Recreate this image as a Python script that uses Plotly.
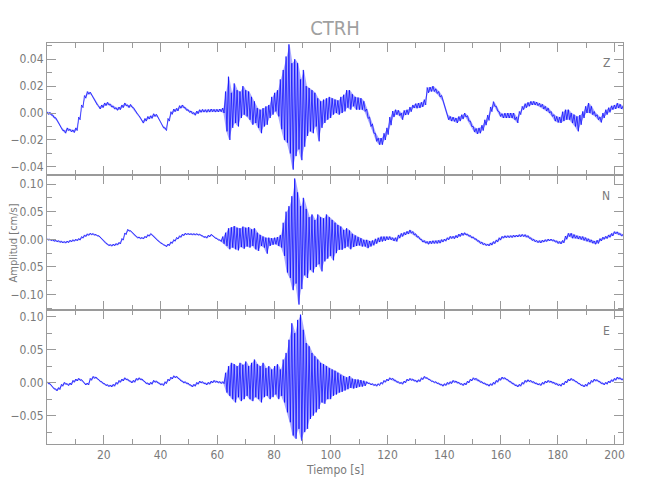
import plotly.graph_objects as go

# ---------------- data (values in units of 0.001 cm/s) ----------------
dt = 1.015          # sampling step of the read-off values [s]
title_text = "CTRH"
components = ["Z", "N", "E"]
x_ticks = [20, 40, 60, 80, 100, 120, 140, 160, 180, 200]

z_hi = [1,0.5,-1.5,-3.5,-7,-11,-13,-11,-12,-12.5,-11,-3,6,13,16,15.5,12,8,5,6,7.5,8,6.5,5,4,4.5,6,7.5,6,6.4,
        4,1,-2,-5.5,-4,-2.5,-2,-0.5,-1,-4.5,-9,-11,-4,1,3,3.5,5.5,6,4,2.5,1.5,0.3,1.5,2.5,2.7,2.5,2.7,3,2.7,2.8,3,
        3.7,16,27,15,22,17,16,20,17,16,12,8.7,3.7,2.5,3.7,5,6,12,15,17,25,32,42,51,37,40,37,25,32,20,18.6,17,15,11,8.7,10,11,12,11,10,
        9.4,12,13.6,17,17,14,12,11.5,11,8.7, 3,-3,-8,-15,-18.6,-18.6,-15,-11,-3,1.5, 2.5,2,0,2,2.5,4.5,6,7,7.4,8,
        10,19,19.3,20,18,16,13,6,-1,-2.5, -3,-3.7,-2.5,-1.2,0,-2,-6,-10,-11.5,-11, -9,-5,-1.5,4.5,8.5,5,1,-0.5,0,0,
        0,0,-3,1.2,5,7,8,8.7,8.7,8.2, 7.2,6.5,5,3.7,1.2,-1.2,-2.5,-3,1,2.5, 2.5,0,-1.2,-2.5,-1.5,1.2,5,7.4,5,1.2,
        -1.2,-3,0,2.5,4,5.4,6,7.4,6.5,5]
z_lo = [-1,-1.5,-3.5,-5.5,-9,-13,-15,-13,-14,-14.5,-13,-5,4,11,14,13.5,10,6,3,4,5.5,6,4.5,3,2,2.5,4,5.5,4,4.4,
        2,-1,-4,-7.5,-6,-4.5,-4,-2.5,-3,-6.5,-11,-13,-6,-1,1,1.5,3.5,4,2,0.5,-0.5,-1.7,-0.5,0.5,0.7,0.5,0.7,1,0.7,0.8,1,
        0,-13.6,-20,-11,-7.4,-10,-3.7,-1.2,-2.5,-5,-8.7,-7.4,-11,-15,-10,-8.7,-3.7,-1.2,1.2,-2.5,-12,-20,-22,-30,-42,-32,-27,-35,-25,-17,-13.6,-15,-10,-21,-11,-7.4,-5,-3.7,-1.2,0,
        -1.2,0,1.2,4,2.5,5,2.5,2.5,2.5,1.2, -4,-10,-15,-21,-23.5,-23.5,-20,-16,-9,-3, -1.2,-2,-5,-1.5,-1.2,1,3.7,3.5,3.7,4.5,
        6,15,16,16,14.5,12,9,2.5,-5,-6, -6.2,-7.4,-6,-4.5,-3,-6,-10,-14,-15.5,-15, -13,-9,-5.5,1,5,1.5,-2.5,-3.7,-3.7,-3.7,
        -3.7,-5,-7.4,-1.2,2.5,4,5,6,6,5.5, 4.5,3,1.5,0,-2.5,-6,-7,-7.4,-6,-5, -5,-7.4,-10,-13.6,-8.7,-3.7,0,0,-1.2,-2.5,
        -5,-7,-3.7,-1.2,0.5,2.5,3,3.7,3,2.5]

n_hi = [1.5,0.5,-0.5,-1.5,-2.5,-3.5,-3.9,-3,-1.5,-0.5,0.3,1.5,5,8,10,11.1,10.5,9,6.5,1.5,-4.5,-8.5,-9.5,-8.7,-7.5,-5.5,1.5,11.5,18,15.5,
        9.5,5.5,4,3.5,5.5,8.5,10.5,6.5,0.5,-4,-7.5,-10.5,-8.5,-4.5,-0.5,3.5,6.5,9.5,11.1,10.8,10.5,10.5,10.5,9.5,6.5,5,7.5,9,5,1.5,-1,
        5,12,20,22,24,21,20,23,21,22,18,20,12,8,5,3,3,2,3,4,8,30,50,60,78,110,85,60,75,55,40,45,35,45,40,38,45,40,35,30,
        26,23,17,20,16,10,7,4,2,-1, -1,-3,-2,1,3,5,5,5,5,3, 3,8,11,12.6,14.5,17,14,10,5,0,
        -2.4,-4,-3,-2.5,-2.5,-2,-0.5,0.5,3,5.5, 5.5,7,9.5,11.5,12,9.5,7,4.5,1,-2.5, -5,-7.5,-8.4,-6.5,-4,-1,3,5.5,6.6,6.6,
        6.6,7.5,7.8,8.5,9,8.5,6.6,2.5,0,-2, -2.4,-1.5,-0.5,0.6,0.5,-1,-3,-4,-2,6, 11,11,8.5,6.5,5.5,5,3,1,-1,-3,
        -1.5,1.5,4,5.5,8,10.5,14,13.5,10.5,8.5]
n_lo = [-1.5,-2.5,-3.5,-4.5,-5.5,-6.5,-6.9,-6,-4.5,-3.5,-2.7,-1.5,2,5,7,8.1,7.5,6,3.5,-1.5,-7.5,-11.5,-12.5,-11.7,-10.5,-8.5,-1.5,8.5,15,12.5,
        6.5,2.5,1,0.5,2.5,5.5,7.5,3.5,-2.5,-7,-10.5,-13.5,-11.5,-7.5,-3.5,0.5,3.5,6.5,8.1,7.8,7.5,7.5,7.5,6.5,3.5,2,4.5,6,2,-1.5,-4,
        -8,-12,-18,-15,-18,-20,-14,-17,-13,-15,-12,-18,-21,-12,-15,-26,-12,-10,-9,-12,-15,-30,-60,-70,-92,-80,-118,-90,-65,-70,-55,-60,-50,-45,-58,-40,-35,-30,-38,-25,
        -19,-19,-16,-13,-18,-14,-12,-11,-13,-13, -16,-13,-11,-8,-5,-4,-3,-1,-1,-3, -4,2,5,7.8,9.5,11,8,4,0,-5,
        -7,-9,-8,-7.5,-7.5,-7,-5,-3.5,-1,1.5, 1,2.5,5,7,7.8,5.5,2.5,0,-3.5,-7.5, -10,-11.5,-12,-10.5,-8,-5,-1.5,2,3,3,
        3,4,4.2,4.6,5,4,1.8,-2,-4.5,-6, -6.6,-5,-4,-3,-3,-5,-7.5,-8.4,-6.5,0, 5,2,2,0.5,-0.5,-2,-3.5,-5,-7,-9,
        -7.5,-3,0,1.2,3.5,6,10,8.5,6,4.5]

e_hi = [1.5,-1.5,-6.5,-9.5,-7.5,-2.5,0.5,-1.5,-0.5,3.5,5.5,6.5,4.5,-0.5,-0.5,6.5,9.5,8.5,4.5,1.5,-1.5,-3,-3.5,-2.5,0.5,3.5,5.5,7.5,5.5,2.5,
        3.5,6.5,7.5,5.5,1.5,-0.5,0.5,3.5,2.5,-0.5,-1.5,1.5,5.5,8.5,10.5,9.5,5.5,2.5,1.5,-0.5,-3.5,-2.5,0.5,2.5,1.5,-0.5,0.5,2.5,3.5,2.5,1.5,1.5,
        15,25,30,28,25,30,27,32,25,30,35,28,25,30,22,25,20,25,28,20,35,45,65,90,75,95,103,80,60,55,45,40,35,30,28,25,22,20,18,15,12,10,8,10,6,5,5,4,3,
        1.5,-0.5,-1.5,-2.5,-1.5,0.5,3.5,5.5,7.5,6.5, 3.5,1.5,0.5,2.5,5.5,6.5,5.5,3.5,4.5,7.5, 9.5,7.5,4.5,2.5,1.5,-0.5,-2.5,-1.5,0.5,1.5,
        3.5,2.5,0.5,-1.5,-0.5,2.5,5.5,7.5,6.5,3.5, 1.5,-0.5,-2.5,-1.5,0.5,3.5,6.5,8.5,7.5,4.5, 1.5,-1.5,-3.5,-2.5,0.5,3.5,4.5,3.5,1.5,-0.5,
        -1.5,0.5,2.5,3.5,2.5,0.5,-1.5,-2.5,-0.5,2.5, 5.5,6.5,4.5,1.5,-1.5,-3.5,-2.5,0.5,3.5,5.5, 4.5,1.5,-0.5,0.5,2.5,4.5,6.5,8.5,7.5,5.5]
e_lo = [-1.5,-4.5,-9.5,-12.5,-10.5,-5.5,-2.5,-4.5,-3.5,0.5,2.5,3.5,1.5,-3.5,-3.5,3.5,6.5,5.5,1.5,-1.5,-4.5,-6,-6.5,-5.5,-2.5,0.5,2.5,4.5,2.5,-0.5,
        0.5,3.5,4.5,2.5,-1.5,-3.5,-2.5,0.5,-0.5,-3.5,-4.5,-1.5,2.5,5.5,7.5,6.5,2.5,-0.5,-1.5,-3.5,-6.5,-5.5,-2.5,-0.5,-1.5,-3.5,-2.5,-0.5,0.5,-0.5,-1.5,-1.5,
        -15,-20,-25,-30,-22,-28,-25,-20,-25,-28,-22,-25,-30,-22,-20,-25,-22,-18,-25,-20,-30,-45,-60,-80,-85,-70,-88,-75,-70,-55,-50,-45,-40,-30,-32,-25,-25,-20,-18,-15,-14,-12,-10,-8,-9,-8,-6,-6,-5,
        -1.5,-3.5,-4.5,-5.5,-4.5,-2.5,0.5,2.5,4.5,3.5, 0.5,-1.5,-2.5,-0.5,2.5,3.5,2.5,0.5,1.5,4.5, 6.5,4.5,1.5,-0.5,-1.5,-3.5,-5.5,-4.5,-2.5,-1.5,
        0.5,-0.5,-2.5,-4.5,-3.5,-0.5,2.5,4.5,3.5,0.5, -1.5,-3.5,-5.5,-4.5,-2.5,0.5,3.5,5.5,4.5,1.5, -1.5,-4.5,-6.5,-5.5,-2.5,0.5,1.5,0.5,-1.5,-3.5,
        -4.5,-2.5,-0.5,0.5,-0.5,-2.5,-4.5,-5.5,-3.5,-0.5, 2.5,3.5,1.5,-1.5,-4.5,-6.5,-5.5,-2.5,0.5,2.5, 1.5,-1.5,-3.5,-2.5,-0.5,1.5,3.5,5.5,4.5,2.5]

# ---------------- figure ----------------
FONT = "Liberation Sans Narrow, DejaVu Sans Condensed, Arial Narrow, sans-serif"
AX = "#9a9a9a"
TXT = "#7a7a7a"

def trace_xy(hi, lo):
    xs, ys = [], []
    for i, (h, l) in enumerate(zip(hi, lo)):
        xs += [i * dt, i * dt + dt / 2]
        ys += [h * 1e-3, l * 1e-3]
    return xs, ys

fig = go.Figure()
series = [(z_hi, z_lo), (n_hi, n_lo), (e_hi, e_lo)]
for k, (hi, lo) in enumerate(series):
    sfx = "" if k == 0 else str(k + 1)
    tt = [i * dt + dt / 4 for i in range(len(hi))]
    # envelope band of the dense oscillation
    fig.add_trace(go.Scatter(x=tt + tt[::-1],
                             y=[v * 1e-3 for v in hi] + [v * 1e-3 for v in lo[::-1]],
                             mode="lines", fill="toself", fillcolor="rgba(40,40,255,0.40)",
                             line=dict(width=0), xaxis="x" + sfx, yaxis="y" + sfx,
                             showlegend=False, hoverinfo="skip"))
    xs, ys = trace_xy(hi, lo)
    fig.add_trace(go.Scatter(x=xs, y=ys, mode="lines",
                             line=dict(color="#0000ff", width=0.7),
                             xaxis="x" + sfx, yaxis="y" + sfx, showlegend=False,
                             hoverinfo="skip"))

PH = 401.0   # plot-area height in px
domains = [[269 / PH, 1.0], [134 / PH, 269 / PH], [0.0, 134 / PH]]
yranges = [[-0.0460, 0.0520], [-0.1278, 0.1163], [-0.0929, 0.1100]]
yticks = [[-0.04, -0.02, 0.0, 0.02, 0.04],
          [-0.10, -0.05, 0.0, 0.05, 0.10],
          [-0.05, 0.0, 0.05, 0.10]]
yminor = [0.01, 0.025, 0.025]

for k in range(3):
    sfx = "" if k == 0 else str(k + 1)
    fig.layout["xaxis" + sfx] = dict(
        domain=[0, 1], anchor="y" + sfx, range=[0, 203],
        matches=None if k == 0 else "x",
        showline=True, linecolor=AX, linewidth=1, mirror="allticks",
        ticks="inside", ticklen=9, tickcolor=AX, tickwidth=1,
        tickvals=x_ticks, showticklabels=(k == 2),
        tickfont=dict(family=FONT, size=12, color=TXT),
        minor=dict(ticks="inside", ticklen=5, dtick=10, tick0=0, tickcolor=AX, showgrid=False),
        showgrid=False, zeroline=False, automargin=False)
    fig.layout["yaxis" + sfx] = dict(
        domain=domains[k], anchor="x" + sfx, range=yranges[k],
        showline=True, linecolor=AX, linewidth=1, mirror="allticks",
        ticks="inside", ticklen=9, tickcolor=AX, tickwidth=1,
        tickvals=yticks[k], tickformat=".2f",
        tickfont=dict(family=FONT, size=12, color=TXT),
        minor=dict(ticks="inside", ticklen=5, dtick=yminor[k], tick0=0, tickcolor=AX, showgrid=False),
        showgrid=False, zeroline=False, automargin=False)

annotations = []
label_y = [1 - 20 / PH, 1 - (132 + 21) / PH, 1 - (267 + 21) / PH]
for k, comp in enumerate(components):
    annotations.append(dict(text=comp, x=(606 - 47) / 576, y=label_y[k], xref="paper", yref="paper",
                            showarrow=False, xanchor="center", yanchor="middle",
                            font=dict(family=FONT, size=12, color=TXT)))
annotations.append(dict(text="Tiempo [s]", x=0.5, y=-26 / PH, xref="paper", yref="paper",
                        showarrow=False, xanchor="center", yanchor="middle",
                        font=dict(family=FONT, size=12, color=TXT)))
annotations.append(dict(text="Amplitud [cm/s]", x=-34 / 576, y=0.5, xref="paper", yref="paper",
                        showarrow=False, xanchor="center", yanchor="middle", textangle=-90,
                        font=dict(family=FONT, size=11, color=TXT)))

# the page body adds an 8 px offset, so margins are reduced accordingly
fig.update_layout(
    width=650, height=500,
    margin=dict(l=39, r=35, t=35, b=64),
    paper_bgcolor="white", plot_bgcolor="white",
    title=dict(text=title_text, x=(335 - 8) / 650, xanchor="center", y=1 - 20 / 500, yanchor="middle",
               font=dict(family=FONT, size=20, color="#a0a0a0")),
    annotations=annotations,
)

fig.write_html("out.html")
